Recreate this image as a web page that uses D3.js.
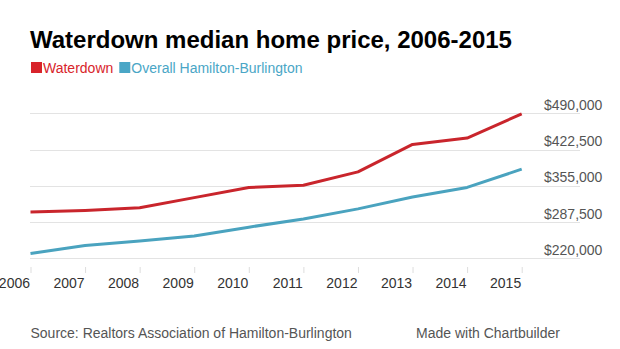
<!DOCTYPE html>
<html>
<head>
<meta charset="utf-8">
<script src="https://cdn.jsdelivr.net/npm/d3@7/dist/d3.min.js"></script>
<style>
  html, body { margin: 0; padding: 0; background: #fff; }
  svg { display: block; font-family: "Liberation Sans", Arial, Helvetica, sans-serif; }
</style>
</head>
<body>
<svg id="chart" width="620" height="349"></svg>
<script>
// values
const years = [2006, 2007, 2008, 2009, 2010, 2011, 2012, 2013, 2014, 2015];
const waterdown = [306000, 309000, 314000, 333000, 352000, 356000, 381000, 432000, 444000, 489000];
const hamiltonBurlington = [229000, 244000, 252000, 261500, 278000, 293000, 312000, 334000, 352000, 386000];
const priceTicks = [220000, 287500, 355000, 422500, 490000];

const red = "#c9252c";
const blue = "#4aa3bf";

const width = 620;
const height = 349;
const svg = d3.select("#chart");

const x = d3.scaleLinear().domain([2006, 2015]).range([30.5, 521.7]);
const y = d3.scaleLinear().domain([220000, 490000]).range([258.3, 113.3]);

// title
svg.append("text")
    .attr("x", 30)
    .attr("y", 48)
    .attr("font-size", 24)
    .attr("font-weight", "bold")
    .attr("fill", "#000")
    .text("Waterdown median home price, 2006-2015");

// legend
const legend = [
    { label: "Waterdown", color: "#d8242b" },
    { label: "Overall Hamilton-Burlington", color: "#4aa6c6" }
];
let lx = 31;
legend.forEach((d) => {
    svg.append("rect")
        .attr("x", lx)
        .attr("y", 62)
        .attr("width", 11)
        .attr("height", 11)
        .attr("fill", d.color);
    const t = svg.append("text")
        .attr("x", lx + 12)
        .attr("y", 72.5)
        .attr("font-size", 14)
        .attr("fill", d.color)
        .text(d.label);
    lx += 12 + t.node().getComputedTextLength() + 6;
});

// gridlines
svg.append("g")
    .selectAll("line")
    .data(priceTicks)
    .join("line")
    .attr("x1", 30)
    .attr("x2", 580)
    .attr("y1", (d) => Math.round(y(d)) + 0.5)
    .attr("y2", (d) => Math.round(y(d)) + 0.5)
    .attr("stroke", "#e3e3e3")
    .attr("stroke-width", 1);

// y axis labels on the right, sitting above each gridline
const yAxis = svg.append("g")
    .attr("transform", "translate(544,0)")
    .call(d3.axisRight(y)
        .tickValues(priceTicks)
        .tickSize(0)
        .tickPadding(0)
        .tickFormat((d) => "$" + d3.format(",")(d)));
yAxis.select(".domain").remove();
yAxis.selectAll("text")
    .attr("font-family", null)
    .attr("font-size", 14)
    .attr("fill", "#555")
    .attr("dy", null)
    .attr("y", -4);

// x axis
const xAxis = svg.append("g")
    .attr("transform", "translate(0,267)")
    .call(d3.axisBottom(x)
        .tickValues(years)
        .tickSize(6)
        .tickPadding(0)
        .tickFormat(d3.format("d")));
xAxis.select(".domain").remove();
xAxis.selectAll(".tick line").attr("stroke", "#ddd");
xAxis.selectAll("text")
    .attr("font-family", null)
    .attr("font-size", 14)
    .attr("fill", "#333")
    .attr("text-anchor", "end")
    .attr("dy", null)
    .attr("x", -1)
    .attr("y", 21);

// lines
const line = d3.line()
    .x((d, i) => x(years[i]))
    .y((d) => y(d));

svg.append("path")
    .datum(hamiltonBurlington)
    .attr("fill", "none")
    .attr("stroke", blue)
    .attr("stroke-width", 3)
    .attr("stroke-linejoin", "round")
    .attr("d", line);

svg.append("path")
    .datum(waterdown)
    .attr("fill", "none")
    .attr("stroke", red)
    .attr("stroke-width", 3)
    .attr("stroke-linejoin", "round")
    .attr("d", line);

// footer
svg.append("text")
    .attr("x", 30.5)
    .attr("y", 338)
    .attr("font-size", 14)
    .attr("fill", "#555")
    .text("Source: Realtors Association of Hamilton-Burlington");

svg.append("text")
    .attr("x", 416)
    .attr("y", 338)
    .attr("font-size", 14)
    .attr("fill", "#555")
    .text("Made with Chartbuilder");
</script>
</body>
</html>
